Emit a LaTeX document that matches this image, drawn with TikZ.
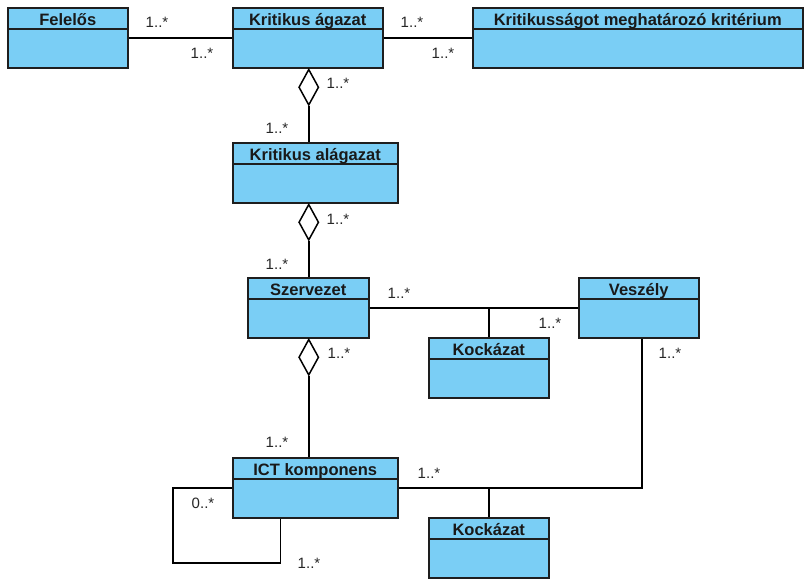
\documentclass[tikz,border=0pt]{standalone}
\usepackage{fontspec}
\setmainfont{Liberation Sans}
\usetikzlibrary{shapes.geometric}
\definecolor{clsfill}{RGB}{122,206,245}
\definecolor{clsdraw}{RGB}{30,30,30}
\tikzset{
  cls/.style={draw=clsdraw, fill=clsfill, line width=1.5pt, minimum height=60pt, inner sep=0pt, anchor=north west},
  clstitle/.style={font=\fontsize{16.5}{18}\selectfont\bfseries, inner sep=0pt, text=black!90, anchor=base},
  conn/.style={draw=black, line width=1.5pt},
  mult/.style={font=\fontsize{15}{16}\selectfont, inner sep=0pt, text=black!85},
  aggr/.style={diamond, draw=black, fill=white, line width=1.5pt, minimum width=20pt, minimum height=36pt, inner sep=0pt, anchor=north}
}
\newcommand{\umlcls}[6]{%
  \node[cls, minimum width=#4pt] (#1) at (#2,#3) {};
  \draw[draw=clsdraw, line width=1.5pt] ([yshift=-22pt]#1.north west) -- ([yshift=-22pt]#1.north east);
  \node[clstitle] (#1-t) at ([yshift=-18.5pt]#1.north) {#5};
}
\begin{document}
\begin{tikzpicture}[x=1pt,y=-1pt]
\useasboundingbox[fill=white] (0,0) rectangle (812,587);
% classes
\umlcls{fel}{7}{7}{120}{Felelős}{}
\umlcls{ka}{232}{7}{150}{Kritikus ágazat}{}
\umlcls{krit}{472}{7}{330}{Kritikusságot meghatározó kritérium}{}
\umlcls{kal}{232}{142}{165}{Kritikus alágazat}{}
\umlcls{sz}{247}{277}{121}{Szervezet}{}
\umlcls{vz}{578}{277}{120}{Veszély}{}
\umlcls{k1}{428}{337}{120}{Kockázat}{}
\umlcls{ict}{232}{457}{165}{ICT komponens}{}
\umlcls{k2}{428}{517}{120}{Kockázat}{}
% associations top
\draw[conn] (fel.east) -- (ka.west);
\draw[conn] (ka.east) -- (krit.west);
% aggregations
\node[aggr] (d1) at ([xshift=1pt]ka.south) {};
\draw[conn] (d1.south) -- (d1.south |- kal.north);
\node[aggr] (d2) at (d1.south |- kal.south) {};
\draw[conn] (d2.south) -- (d2.south |- sz.north);
\node[aggr] (d3) at (d1.south |- sz.south) {};
\draw[conn] (d3.south) -- (d3.south |- ict.north);
% Szervezet - Veszely with Kockazat
\draw[conn] (sz.east) -- (vz.west);
\coordinate (j1) at (k1.north |- sz.east);
\draw[conn] (j1) -- (k1.north);
% ICT - Veszely with Kockazat
\coordinate (j2) at ([xshift=3pt]vz.south |- ict.east);
\draw[conn] (ict.east) -- (j2) -- (j2 |- vz.south);
\coordinate (j3) at (k2.north |- ict.east);
\draw[conn] (j3) -- (k2.north);
% self association
\coordinate (loopc) at (173,563);
\draw[conn] (ict.west) -| (loopc) -| ([xshift=-35pt]ict.south);
% multiplicities
\node[mult] (m1) at (157,22) {1..*};
\node[mult] (m2) at (202,53) {1..*};
\node[mult] (m3) at (412,22) {1..*};
\node[mult] (m4) at (443,53) {1..*};
\node[mult] (m5) at (338,83) {1..*};
\node[mult] (m6) at (277,128) {1..*};
\node[mult] (m7) at (338,219) {1..*};
\node[mult] (m8) at (277,264) {1..*};
\node[mult] (m9) at (399,293) {1..*};
\node[mult] (m10) at (550,323) {1..*};
\node[mult] (m11) at (339,353) {1..*};
\node[mult] (m12) at (670,353) {1..*};
\node[mult] (m13) at (277,442) {1..*};
\node[mult] (m14) at (429,473) {1..*};
\node[mult] (m15) at (203,503) {0..*};
\node[mult] (m16) at (309,563) {1..*};
\end{tikzpicture}
\end{document}
